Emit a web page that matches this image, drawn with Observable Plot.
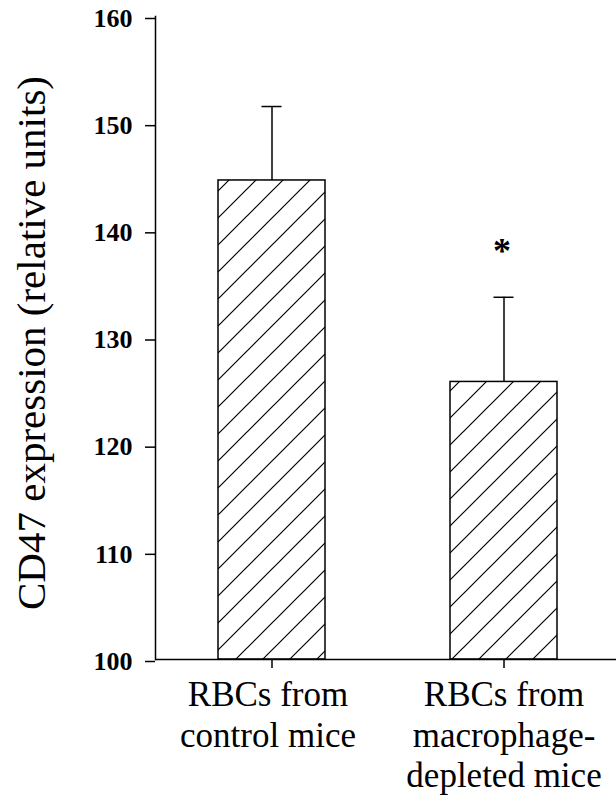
<!DOCTYPE html>
<html><head><meta charset="utf-8">
<script src="https://cdn.jsdelivr.net/npm/d3@7"></script>
<script src="https://cdn.jsdelivr.net/npm/@observablehq/plot@0.6"></script>
<style>body{margin:0;background:#fff}</style>
</head><body><div id="chart"></div>
<script>
const categories = ["RBCs from\ncontrol mice", "RBCs from\nmacrophage-\ndepleted mice"];
const means = [144.7, 125.9];
const errorTops = [151.6, 133.8];
const significance = ["", "*"];
const yTicks = [100, 110, 120, 130, 140, 150, 160];
const yLabel = "CD47 expression (relative units)";

const serif = "'Liberation Serif', 'Times New Roman', serif";
const data = categories.map((c, i) => ({category: c, mean: means[i], top: errorTops[i], sig: significance[i]}));

const hatchDefs = () => {
  const defs = d3.create("svg:defs");
  const p = defs.append("pattern").attr("id", "hatch").attr("patternUnits", "userSpaceOnUse")
    .attr("width", 27).attr("height", 27).attr("x", 4);
  p.append("rect").attr("width", 27).attr("height", 27).attr("fill", "#fff");
  p.append("path").attr("d", "M-7,7L7,-7M0,27L27,0M20,34L34,20")
    .attr("stroke", "#000").attr("stroke-width", 1.2).attr("fill", "none");
  return defs.node();
};

const labelOpts = {x: "category", text: "category", frameAnchor: "bottom", lineAnchor: "top", textAnchor: "middle", dy: 18, fontSize: 35, lineHeight: 1.157, fontFamily: serif, fill: "#000"};

const chart = Plot.plot({
  width: 616,
  height: 798,
  marginTop: 16,
  marginBottom: 139,
  marginLeft: 155,
  marginRight: 0,
  style: {fontFamily: serif, background: "#fff", color: "#000"},
  x: {domain: categories, range: [160, 616], paddingInner: 0.538, paddingOuter: 0.25, axis: null},
  y: {domain: [100, 160], axis: null},
  marks: [
    hatchDefs,
    Plot.barY(data, {x: "category", y1: 100, y2: "mean", fill: "url(#hatch)", stroke: "#000", strokeWidth: 1.5}),
    Plot.ruleX(data, {x: "category", y1: "mean", y2: "top", stroke: "#000", strokeWidth: 1.5}),
    Plot.tickY(data, {x: "category", y: "top", insetLeft: 43.5, insetRight: 43.5, stroke: "#000", strokeWidth: 1.5}),
    Plot.text(data, {x: "category", y: "top", text: "sig", dy: -46, dx: -2, fontSize: 36, fontWeight: "bold", fontFamily: serif, fill: "#000"}),
    Plot.ruleY([100], {stroke: "#000", strokeWidth: 1.5}),
    Plot.frame({anchor: "left", stroke: "#000", strokeWidth: 1.5}),
    Plot.axisY(yTicks, {tickSize: 10, tickPadding: 13, fontSize: 26, fontWeight: "bold", fontFamily: serif, tickFormat: d => d, label: null, strokeWidth: 1.5, dy: 2}),
    Plot.axisX({tickSize: 9, tickFormat: () => "", label: null, strokeWidth: 1.5}),
    Plot.text(data.slice(0, 1), {...labelOpts, dx: -4}),
    Plot.text(data.slice(1), {...labelOpts, dx: 0}),
    Plot.text([yLabel], {frameAnchor: "left", textAnchor: "middle", dx: -124, dy: 5, rotate: -90, fontSize: 41, fontFamily: serif, fill: "#000"})
  ]
});
document.getElementById("chart").appendChild(chart);
</script>
</body></html>
